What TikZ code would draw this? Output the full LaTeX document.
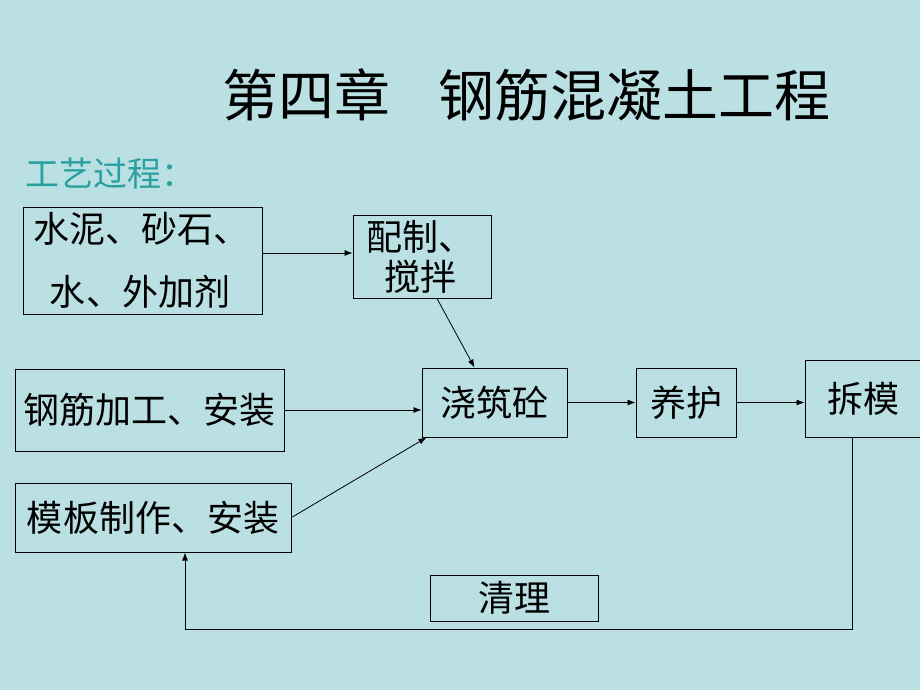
\documentclass[tikz,border=0pt]{standalone}
\usepackage{fontspec}
\setmainfont{Noto Sans CJK SC}
\usetikzlibrary{arrows.meta}
\definecolor{bg}{RGB}{186,224,227}
\definecolor{subt}{RGB}{42,160,160}
\begin{document}
\begin{tikzpicture}[x=1pt,y=-1pt,
  box/.style={draw=black, line width=1pt, inner sep=0pt, font=\fontsize{36}{40}\selectfont},
  arr/.style={-{Latex[length=8pt,width=6pt]}, line width=0.8pt}]
\fill[bg] (0,0) rectangle (920,690);
\useasboundingbox (0,0) rectangle (920,690);

\node[anchor=west, inner sep=0pt, font=\fontsize{56}{60}\selectfont] (title) at (222,95) {第四章\hspace{48pt}钢筋混凝土工程};
\node[anchor=west, inner sep=0pt, text=subt, font=\fontsize{34}{40}\selectfont] (sub) at (25,174) {工艺过程：};

\node[box, minimum height=107pt, text width=219pt, inner xsep=10pt, align=left, font=\fontsize{36}{63}\selectfont] (b1) at (142.5,260.5) {水泥、砂石、\\\hspace*{17pt}水、外加剂};
\node[box, minimum height=83pt, text width=112pt, inner xsep=13pt, align=left, font=\fontsize{36}{40}\selectfont] (mix) at (422,256.5) {配制、\\\hspace*{18pt}搅拌};
\node[box, minimum width=269pt, minimum height=82pt] (steel) at (149.5,410) {钢筋加工、安装};
\node[box, minimum width=276pt, minimum height=69pt] (form) at (153,517.5) {模板制作、安装};
\node[box, minimum width=145pt, minimum height=69pt] (pour) at (494.5,402.5) {浇筑砼};
\node[box, minimum width=100pt, minimum height=69pt] (cure) at (686,402.5) {养护};
\node[box, minimum width=116pt, minimum height=77pt] (strip) at (863,398.5) {拆模};
\node[box, minimum width=168pt, minimum height=46pt] (clean) at (514,598) {清理};

\draw[arr] ([yshift=7.5pt]b1.east) -- ([yshift=3.5pt]mix.west);
\draw[arr] ([xshift=15pt]mix.south) -- ([xshift=-20pt]pour.north);
\draw[arr] (steel.east) -- (steel.east -| pour.west);
\draw[arr] (form.east) -- ([xshift=5pt]pour.south west);
\draw[arr] (pour.east) -- (cure.west);
\draw[arr] (cure.east) -- (cure.east -| strip.west);
\coordinate (c1) at (852,629);
\coordinate (c2) at (185,629);
\draw[arr] ([xshift=-11pt]strip.south) -- (c1) -- (c2) -- ([xshift=32pt]form.south);
\end{tikzpicture}
\end{document}
